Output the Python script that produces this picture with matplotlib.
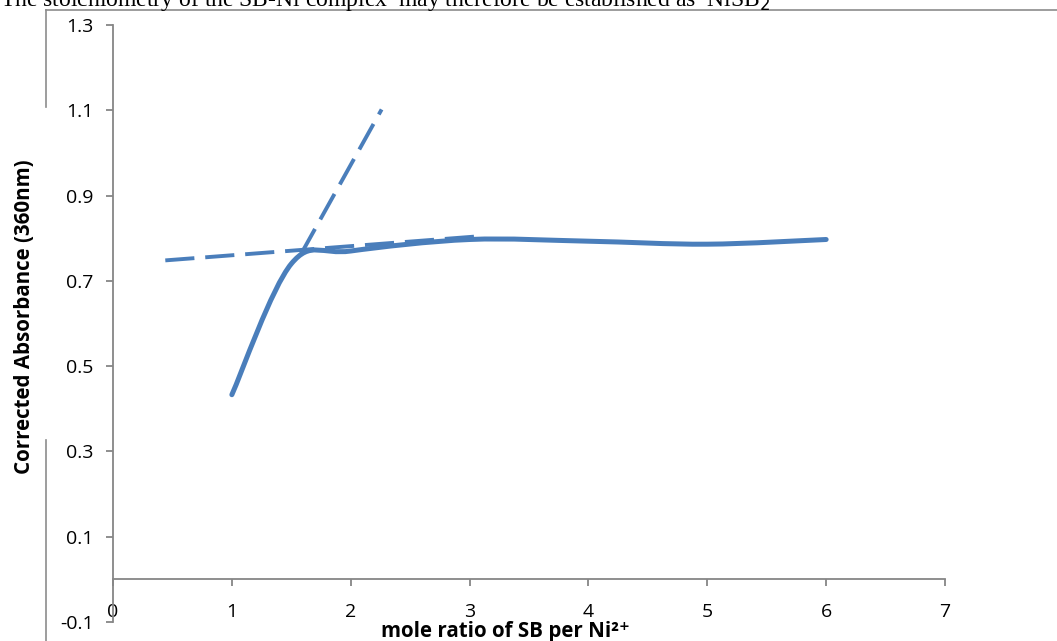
import numpy as np
import matplotlib
matplotlib.use("Agg")
import matplotlib.pyplot as plt
from matplotlib.path import Path
from matplotlib.patches import PathPatch
from matplotlib.lines import Line2D

# measured data (mole ratio vs corrected absorbance)
mole_ratio = [1, 1.5, 2, 3, 4, 5, 6]
absorbance = [0.433, 0.74, 0.77, 0.797, 0.793, 0.786, 0.797]

# hand drawn tangent lines
flat_x = [0.44, 3.1]
flat_y = [0.748, 0.805]
steep_x = [1.58, 2.26]
steep_y = [0.762, 1.102]

x_ticks = [0, 1, 2, 3, 4, 5, 6, 7]
y_ticks = [-0.1, 0.1, 0.3, 0.5, 0.7, 0.9, 1.1, 1.3]

blue = "#4a7ebb"
grey = "#868686"
tick_font = ["Open Sans", "DejaVu Sans"]


def smooth_path(xs, ys):
    # excel style smoothed line: bezier segments, control points from neighbours
    pts = np.column_stack([xs, ys])
    verts = [pts[0]]
    codes = [Path.MOVETO]
    n = len(pts)
    for i in range(n - 1):
        p0 = pts[max(i - 1, 0)]
        p1 = pts[i]
        p2 = pts[i + 1]
        p3 = pts[min(i + 2, n - 1)]
        c1 = p1 + (p2 - p0) / 6.0
        c2 = p2 - (p3 - p1) / 6.0
        verts += [c1, c2, p2]
        codes += [Path.CURVE4] * 3
    return Path(verts, codes)


fig = plt.figure(figsize=(10.57, 6.41), dpi=100)
ax = fig.add_axes([113 / 1057, 19 / 641, 832 / 1057, 597 / 641])

patch = PathPatch(smooth_path(mole_ratio, absorbance), facecolor="none",
                  edgecolor=blue, lw=3.6, capstyle="round", joinstyle="round")
ax.add_patch(patch)

ax.plot(flat_x, flat_y, color=blue, lw=2.8, dashes=(7.5, 2.8), dash_capstyle="butt")
ax.plot(steep_x, steep_y, color=blue, lw=2.8, dashes=(7.5, 2.8), dash_capstyle="butt")

for s in ["top", "right"]:
    ax.spines[s].set_visible(False)
ax.spines["bottom"].set_position(("data", 0))
for s in ["left", "bottom"]:
    ax.spines[s].set_color(grey)
    ax.spines[s].set_linewidth(1.3)

ax.set_xlim(0, 7)
ax.set_ylim(-0.1, 1.3)
ax.set_xticks(x_ticks)
ax.set_yticks(y_ticks)
ax.set_xticklabels([str(t) for t in x_ticks], fontsize=14, family=tick_font)
ax.set_yticklabels(["%.1f" % t for t in y_ticks], fontsize=14, family=tick_font)
ax.tick_params(axis="both", direction="out", length=5, width=1.3, color=grey)
ax.tick_params(axis="x", pad=12)
ax.tick_params(axis="y", pad=9)

fig.text(505 / 1057, 1 - 631 / 641, "mole ratio of SB per Ni\u00b2\u207a",
         ha="center", va="center", fontsize=14.8, fontweight="bold", family=tick_font)
fig.text(25 / 1057, 1 - 317 / 641, "Corrected Absorbance (360nm)", rotation=90,
         ha="center", va="center", fontsize=14.8, fontweight="bold", family=tick_font)

# page text cut off above the chart frame
fig.text(0.0, 1 - 6 / 641,
         "The stoichiometry of the SB-Ni complex  may therefore be established as  NiSB$_2$",
         ha="left", va="baseline", fontsize=17, family="Liberation Serif")

# chart frame
fig.add_artist(Line2D([46 / 1057, 1], [1 - 10 / 641, 1 - 10 / 641],
                      transform=fig.transFigure, color="#8c8c8c", lw=1.2))
fig.add_artist(Line2D([46 / 1057, 46 / 1057], [1 - 10 / 641, 1 - 107 / 641],
                      transform=fig.transFigure, color="#8c8c8c", lw=1.2))
fig.add_artist(Line2D([46 / 1057, 46 / 1057], [1 - 440 / 641, 0],
                      transform=fig.transFigure, color="#8c8c8c", lw=1.2))

fig.savefig("out.png", dpi=100)
